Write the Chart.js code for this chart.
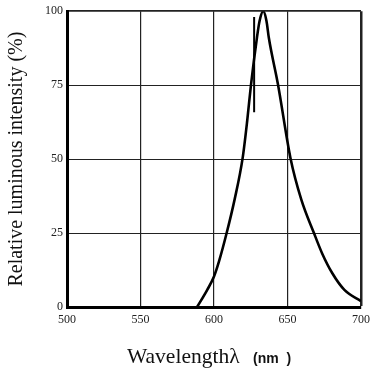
<!DOCTYPE html>
<html><head><meta charset="utf-8">
<script src="https://cdn.jsdelivr.net/npm/chart.js@4.4.0/dist/chart.umd.min.js"></script>
<style>html,body{margin:0;padding:0;background:#fff}#c{display:block}</style>
</head><body>
<canvas id="c" width="370" height="368"></canvas>
<script>
const wavelengths = [588.5,595.4,600,603.4,608.6,614,619.5,622.6,625.2,629.2,631,633.5,635.7,637.3,643.5,652,659.4,668,673.5,680.5,688.7,700];
const intensity   = [0,5.8,10.3,15.4,25,36.3,50.4,63,75.3,91,96.7,100,96.7,91,75.3,50.4,36.3,25,18.2,11.4,5.8,2];
const strokeX = [627.3,627.3];
const strokeY = [65.8,98];
const xTicks = [500,550,600,650,700];
const yTicks = [0,25,50,75,100];
const xTitleMain = 'Wavelength\u03bb';
const xTitleUnit = '(nm  )';
const yTitle = 'Relative luminous intensity (%)';

const xTitlePlugin = {
  id:'xTitle',
  afterDraw(chart){
    const ctx = chart.ctx;
    ctx.save();
    ctx.fillStyle='#111';
    ctx.textBaseline='alphabetic';
    const y = 363;
    ctx.font='21.5px "Liberation Serif"';
    ctx.fillText(xTitleMain, 127, y);
    ctx.font='bold 14px "Liberation Sans"';
    ctx.fillText(xTitleUnit, 253, y);
    ctx.restore();
  }
};

new Chart(document.getElementById('c'), {
  type:'line',
  data:{datasets:[
    {data: wavelengths.map((w,i)=>({x:w,y:intensity[i]})), borderColor:'#000', borderWidth:2.6, pointRadius:0, cubicInterpolationMode:'monotone', fill:false},
    {data: strokeX.map((w,i)=>({x:w,y:strokeY[i]})), borderColor:'#000', borderWidth:2, pointRadius:0, fill:false}
  ]},
  options:{
    responsive:false, animation:false, devicePixelRatio:1,
    layout:{padding:{left:0,right:0,top:8,bottom:0}},
    plugins:{legend:{display:false}, tooltip:{enabled:false}},
    scales:{
      x:{type:'linear', min:500, max:700,
        afterBuildTicks(s){s.ticks = xTicks.map(v=>({value:v}));},
        afterFit(s){s.height = 61; s.paddingRight = 9; s.paddingLeft = 0;},
        ticks:{font:{family:'Liberation Serif', size:12}, color:'#222', padding:6, maxRotation:0, autoSkip:false},
        grid:{color:'#222', lineWidth:(c)=> c.tick && c.tick.value===700 ? 2.5 : 1.2, drawTicks:false},
        border:{color:'#000', width:3}
      },
      y:{min:0, max:100,
        afterBuildTicks(s){s.ticks = yTicks.map(v=>({value:v}));},
        afterFit(s){s.width = 67;},
        ticks:{font:{family:'Liberation Serif', size:12}, color:'#222', padding:4},
        grid:{color:'#222', lineWidth:(c)=> c.tick && c.tick.value===100 ? 1.8 : 1, drawTicks:false},
        border:{color:'#000', width:3},
        title:{display:true, text:yTitle, font:{family:'Liberation Serif', size:20}, color:'#111', padding:{top:5,bottom:5}}
      }
    }
  },
  plugins:[xTitlePlugin]
});
</script>
</body></html>
